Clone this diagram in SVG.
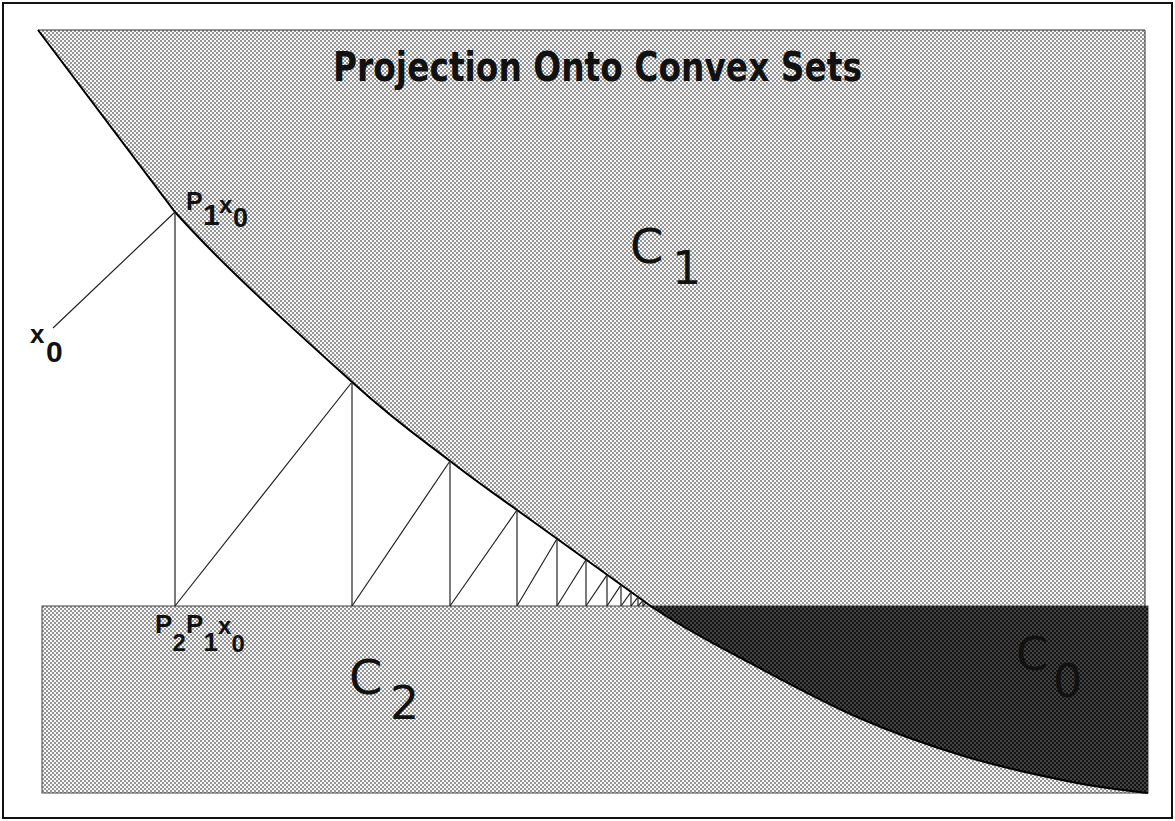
<svg xmlns="http://www.w3.org/2000/svg" width="1175" height="821" viewBox="0 0 1175 821">
  <defs>
    <pattern id="light" patternUnits="userSpaceOnUse" width="4" height="4">
      <rect width="4" height="4" fill="#f6f6f6"/>
      <circle cx="1" cy="1" r="0.8" fill="#1a1a1a"/>
      <circle cx="3" cy="3" r="0.8" fill="#1a1a1a"/>
    </pattern>
    <pattern id="dark" patternUnits="userSpaceOnUse" width="4" height="4">
      <rect width="4" height="4" fill="#141414"/>
      <circle cx="1" cy="1" r="0.65" fill="#9a9a9a"/>
      <circle cx="3" cy="3" r="0.65" fill="#9a9a9a"/>
    </pattern>
    <style>
      .lbl { font-family: "Liberation Sans", "DejaVu Sans", sans-serif; font-weight: bold; fill: #111; }
      .ttl { font-family: "DejaVu Sans", "Liberation Sans", sans-serif; font-weight: bold; fill: #111; }
      .set { font-family: "DejaVu Sans", "Liberation Sans", sans-serif; font-weight: normal; fill: #111; }
      .zz { stroke: #222; stroke-width: 1.2; fill: none; }
    </style>
  </defs>

  <rect x="0" y="0" width="1175" height="821" fill="#ffffff"/>
  <g id="frame">
    <rect x="3" y="3" width="1169" height="815" fill="none" stroke="#111" stroke-width="2"/>
  </g>

  <g id="C1">
    <path d="M38,30 L175,212 C227.3,270.7 306.2,340.5 352,382 C397.8,423.5 422.5,439.7 450,461 C477.5,482.3 483.3,485.7 517,510 L652,607 L1145,607 L1145,30 Z" fill="url(#light)" stroke="#333" stroke-width="1"/>
    <text class="set" x="630" y="263" font-size="48">C</text>
    <text class="set" x="672" y="284" font-size="46">1</text>
  </g>

  <g id="C2">
    <rect x="42" y="606" width="1106" height="187" fill="url(#light)" stroke="#444" stroke-width="1"/>
    <text class="set" x="349" y="694" font-size="48">C</text>
    <text class="set" x="390" y="719" font-size="46">2</text>
  </g>

  <g id="C0">
    <path d="M652,607 C689,631.5 704.8,638.7 739,657 C773.2,675.3 819,700.3 857,717 C895,733.7 930.3,746 967,757 C1003.7,768 1046.8,777 1077,783 C1107.2,789 1136.2,791.3 1148,793 L1148,606 L652,606 Z" fill="url(#dark)" stroke="none"/>
    <text class="set" x="1016" y="670" font-size="46" font-weight="bold">C</text>
    <text class="set" x="1053" y="697" font-size="46" font-weight="bold">0</text>
  </g>

  <g id="boundary">
    <path d="M38,30 L175,212 C227.3,270.7 306.2,340.5 352,382 C397.8,423.5 422.5,439.7 450,461 C477.5,482.3 483.3,485.7 517,510 L652,607 C689,631.5 704.8,638.7 739,657 C773.2,675.3 819,700.3 857,717 C895,733.7 930.3,746 967,757 C1003.7,768 1046.8,777 1077,783 C1107.2,789 1136.2,791.3 1148,793" fill="none" stroke="#000" stroke-width="2"/>
  </g>

  <g id="connectors">
    <line class="zz" x1="53" y1="328" x2="175" y2="212"/>
    <line class="zz" x1="175" y1="212" x2="175" y2="606"/>
    <line class="zz" x1="175" y1="606" x2="352" y2="382"/>
    <line class="zz" x1="352" y1="382" x2="352" y2="606"/>
    <line class="zz" x1="352" y1="606" x2="450" y2="461"/>
    <line class="zz" x1="450" y1="461" x2="450" y2="606"/>
    <line class="zz" x1="450" y1="606" x2="517" y2="510"/>
    <line class="zz" x1="517" y1="510" x2="517" y2="606"/>
    <line class="zz" x1="517" y1="606" x2="557" y2="538.8"/>
    <line class="zz" x1="557" y1="538.8" x2="557" y2="606"/>
    <line class="zz" x1="557" y1="606" x2="586" y2="559.7"/>
    <line class="zz" x1="586" y1="559.7" x2="586" y2="606"/>
    <line class="zz" x1="586" y1="606" x2="607" y2="574.8"/>
    <line class="zz" x1="607" y1="574.8" x2="607" y2="606"/>
    <line class="zz" x1="607" y1="606" x2="621" y2="584.9"/>
    <line class="zz" x1="621" y1="584.9" x2="621" y2="606"/>
    <line class="zz" x1="621" y1="606" x2="631" y2="592.1"/>
    <line class="zz" x1="631" y1="592.1" x2="631" y2="606"/>
    <line class="zz" x1="631" y1="606" x2="638" y2="597.1"/>
    <line class="zz" x1="638" y1="597.1" x2="638" y2="606"/>
    <line class="zz" x1="638" y1="606" x2="643" y2="600.7"/>
    <line class="zz" x1="643" y1="600.7" x2="643" y2="606"/>
    <line class="zz" x1="643" y1="606" x2="646" y2="602.9"/>
  </g>

  <g id="title">
    <text class="ttl" x="333" y="81" font-size="40" textLength="529" lengthAdjust="spacingAndGlyphs">Projection Onto Convex Sets</text>
  </g>

  <g id="x0">
    <text class="lbl" x="30" y="343" font-size="26">x</text>
    <text class="lbl" x="46" y="362" font-size="30">0</text>
  </g>

  <g id="P1x0">
    <text class="lbl" x="186" y="210" font-size="25">P</text>
    <text class="lbl" x="203" y="225" font-size="30">1</text>
    <text class="lbl" x="219" y="213" font-size="24">x</text>
    <text class="lbl" x="233" y="227" font-size="27">0</text>
  </g>

  <g id="P2P1x0">
    <text class="lbl" x="155" y="633" font-size="26">P</text>
    <text class="lbl" x="172.5" y="651" font-size="24">2</text>
    <text class="lbl" x="186" y="633" font-size="26">P</text>
    <text class="lbl" x="203.5" y="651" font-size="26">1</text>
    <text class="lbl" x="218" y="634" font-size="24">x</text>
    <text class="lbl" x="231.5" y="652" font-size="24">0</text>
  </g>
</svg>
